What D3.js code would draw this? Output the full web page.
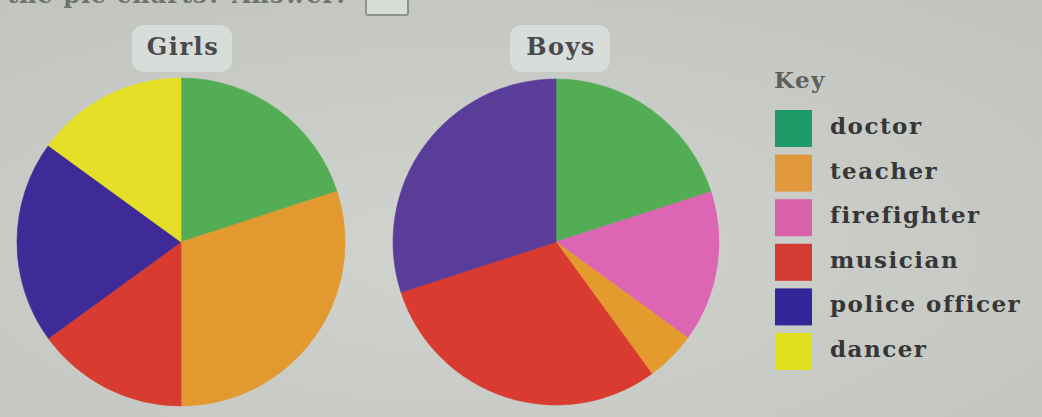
<!DOCTYPE html>
<html>
<head>
<meta charset="utf-8">
<script src="https://cdn.jsdelivr.net/npm/d3@7"></script>
<style>
  html, body { margin: 0; padding: 0; overflow: hidden; }
  svg { display: block; }
</style>
</head>
<body>
<svg id="chart" width="1042" height="417"></svg>
<script>
// ---- data ----
const categories = ["doctor", "teacher", "firefighter", "musician", "police officer", "dancer"];
const girlsOrder = ["doctor", "teacher", "musician", "police officer", "dancer"];
const girlsValues = [20, 30, 15, 20, 15];
const boysOrder = ["doctor", "firefighter", "teacher", "musician", "police officer"];
const boysValues = [20, 15, 5, 30, 30];
const chartTitles = ["Girls", "Boys"];
const keyTitle = "Key";
const headerText = "the pie charts? Answer:";

// ---- styles ----
const keyColors = ["#1f9b69", "#e0983a", "#da62aa", "#d43b32", "#33269a", "#dfdf1e"];
const girlsColors = { "doctor": "#52ad54", "teacher": "#e2992f", "musician": "#d83b2f", "police officer": "#3e2b98", "dancer": "#e5df27" };
const boysColors = { "doctor": "#52ad54", "firefighter": "#dc66b4", "teacher": "#e29b2c", "musician": "#d93b30", "police officer": "#5a3d99" };

const svg = d3.select("#chart");
const W = 1042, H = 417;

// background
const defs = svg.append("defs");
const bg = defs.append("radialGradient").attr("id", "bg").attr("cx", "45%").attr("cy", "60%").attr("r", "75%");
bg.append("stop").attr("offset", "0%").attr("stop-color", "#d1d4ce");
bg.append("stop").attr("offset", "100%").attr("stop-color", "#c2c5bf");
svg.append("rect").attr("width", W).attr("height", H).attr("fill", "url(#bg)");

const serif = "'DejaVu Serif', 'Liberation Serif', serif";

// header line, mostly cut off at the top edge as in the reference
svg.append("text")
  .attr("x", 346).attr("y", 3)
  .attr("text-anchor", "end")
  .attr("font-family", serif).attr("font-size", 24).attr("font-weight", "bold")
  .attr("letter-spacing", 1)
  .attr("fill", "#6f726e")
  .text(headerText);
svg.append("rect")
  .attr("x", 366).attr("y", -12).attr("width", 42).attr("height", 27).attr("rx", 2)
  .attr("fill", "#d9ddd8").attr("stroke", "#8e918c").attr("stroke-width", 2);

const pies = [
  { title: chartTitles[0], order: girlsOrder, values: girlsValues, colors: girlsColors, cx: 181, cy: 242, r: 164, lx: 132 },
  { title: chartTitles[1], order: boysOrder, values: boysValues, colors: boysColors, cx: 556, cy: 242, r: 163, lx: 510 }
];

const pieGen = d3.pie().sort(null).value(d => d.value);

pies.forEach(p => {
  const data = p.order.map((c, i) => ({ cat: c, value: p.values[i] }));
  const arc = d3.arc().innerRadius(0).outerRadius(p.r);
  const g = svg.append("g").attr("transform", `translate(${p.cx},${p.cy})`);
  g.selectAll("path").data(pieGen(data)).join("path")
    .attr("d", arc)
    .attr("fill", d => p.colors[d.data.cat])
    .attr("stroke", d => p.colors[d.data.cat])
    .attr("stroke-width", 0.6);

  // title label
  svg.append("rect")
    .attr("x", p.lx).attr("y", 25).attr("width", 100).attr("height", 47).attr("rx", 12)
    .attr("fill", "#d9ddda");
  svg.append("text")
    .attr("x", p.lx + 51).attr("y", 55)
    .attr("text-anchor", "middle")
    .attr("font-family", serif).attr("font-size", 24).attr("font-weight", "bold")
    .attr("letter-spacing", 1.5)
    .attr("fill", "#4a4a4c")
    .text(p.title);
});

// key
const key = svg.append("g");
key.append("text")
  .attr("x", 774).attr("y", 88)
  .attr("font-family", serif).attr("font-size", 23).attr("font-weight", "bold")
  .attr("letter-spacing", 1.5)
  .attr("fill", "#5e5f5f")
  .text(keyTitle);

const rowY = d3.scalePoint().domain(categories).range([110, 333]);
const rows = key.selectAll("g.row").data(categories).join("g").attr("class", "row")
  .attr("transform", d => `translate(0,${rowY(d)})`);
rows.append("rect")
  .attr("x", 775).attr("y", 0).attr("width", 37).attr("height", 37)
  .attr("fill", (d, i) => keyColors[i]);
rows.append("text")
  .attr("x", 830).attr("y", 24)
  .attr("font-family", serif).attr("font-size", 23).attr("font-weight", "bold")
  .attr("letter-spacing", 1.5)
  .attr("fill", "#363638")
  .text(d => d);
</script>
</body>
</html>
